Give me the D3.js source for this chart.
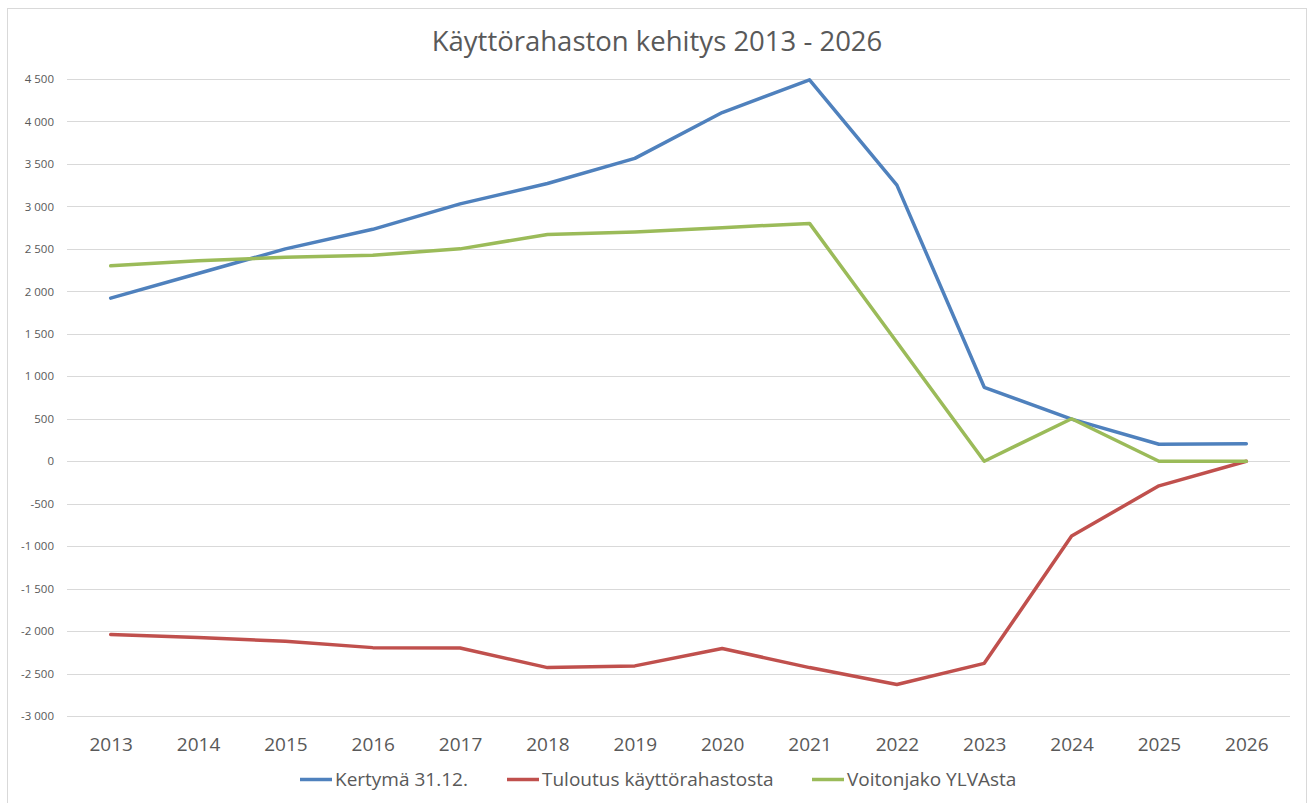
<!DOCTYPE html>
<html>
<head>
<meta charset="utf-8">
<script src="https://cdn.jsdelivr.net/npm/d3@7"></script>
<style>
  html, body { margin: 0; padding: 0; background: #fff; }
  svg { display: block; font-family: "Open Sans", "Noto Sans", sans-serif; }
</style>
</head>
<body>
<svg id="chart" width="1311" height="803"></svg>
<script>
const years = ["2013","2014","2015","2016","2017","2018","2019","2020","2021","2022","2023","2024","2025","2026"];
const kertyma = [1920, 2210, 2500, 2730, 3030, 3270, 3565, 4105, 4490, 3250, 870, 495, 200, 205];
const tuloutus = [-2040, -2075, -2120, -2195, -2200, -2430, -2410, -2205, -2430, -2630, -2380, -880, -290, 0];
const voitonjako = [2300, 2360, 2400, 2425, 2500, 2670, 2700, 2750, 2800, 1400, 0, 500, 0, 0];
const yTicks = [-3000, -2500, -2000, -1500, -1000, -500, 0, 500, 1000, 1500, 2000, 2500, 3000, 3500, 4000, 4500];
const seriesNames = ["Kertymä 31.12.", "Tuloutus käyttörahastosta", "Voitonjako YLVAsta"];
const seriesColors = ["#4F81BD", "#C0504D", "#9BBB59"];
const title = "Käyttörahaston kehitys 2013 - 2026";

const svg = d3.select("#chart");

// chart border
svg.append("rect")
  .attr("x", 7.5).attr("y", 8.5)
  .attr("width", 1299).attr("height", 810)
  .attr("fill", "#fff").attr("stroke", "#d9d9d9").attr("stroke-width", 1);

const x = d3.scalePoint().domain(years).range([67, 1290]).padding(0.5);
const y = d3.scaleLinear().domain([-3000, 4500]).range([716, 79]);

// gridlines
svg.append("g").selectAll("line").data(yTicks).join("line")
  .attr("x1", 67).attr("x2", 1290)
  .attr("y1", d => Math.round(y(d)) + 0.5).attr("y2", d => Math.round(y(d)) + 0.5)
  .attr("stroke", "#d9d9d9").attr("stroke-width", 1);

// y axis labels
const fmt = v => {
  const s = Math.abs(v).toString();
  const g = s.length > 3 ? s.slice(0, s.length - 3) + " " + s.slice(-3) : s;
  return (v < 0 ? "-" : "") + g;
};
const yAxis = d3.axisLeft(y).tickValues(yTicks).tickFormat(fmt).tickSize(0).tickPadding(0);
const yg = svg.append("g").attr("transform", "translate(54,0)").call(yAxis);
yg.select(".domain").remove();
yg.selectAll("text").attr("fill", "#595959").style("font-size", "11.5px")
  .attr("font-family", "'Open Sans', sans-serif");

// x axis labels
const xAxis = d3.axisBottom(x).tickSize(0).tickPadding(0);
const xg = svg.append("g").attr("transform", "translate(0,737)").call(xAxis);
xg.select(".domain").remove();
xg.selectAll("text").attr("fill", "#595959").style("font-size", "19px")
  .attr("font-family", "'Open Sans', sans-serif");

// lines
const data = [kertyma, tuloutus, voitonjako];
const line = d3.line().x((d, i) => x(years[i])).y(d => y(d));
svg.append("g").selectAll("path").data(data).join("path")
  .attr("d", line)
  .attr("fill", "none")
  .attr("stroke", (d, i) => seriesColors[i])
  .attr("stroke-width", 3.5)
  .attr("stroke-linejoin", "round")
  .attr("stroke-linecap", "round");

// title
svg.append("text")
  .attr("x", 657).attr("y", 51)
  .attr("text-anchor", "middle")
  .attr("fill", "#595959")
  .style("font-size", "27.5px")
  .text(title);

// legend
const legendX = [300, 507, 812];
const lg = svg.append("g").selectAll("g").data(seriesNames).join("g")
  .attr("transform", (d, i) => `translate(${legendX[i]},786)`);
lg.append("line")
  .attr("x1", 0).attr("x2", 32).attr("y1", -6.5).attr("y2", -6.5)
  .attr("stroke", (d, i) => seriesColors[i]).attr("stroke-width", 3.5);
lg.append("text")
  .attr("x", 35).attr("y", 0)
  .attr("fill", "#595959")
  .style("font-size", "19px")
  .text(d => d);
</script>
</body>
</html>
